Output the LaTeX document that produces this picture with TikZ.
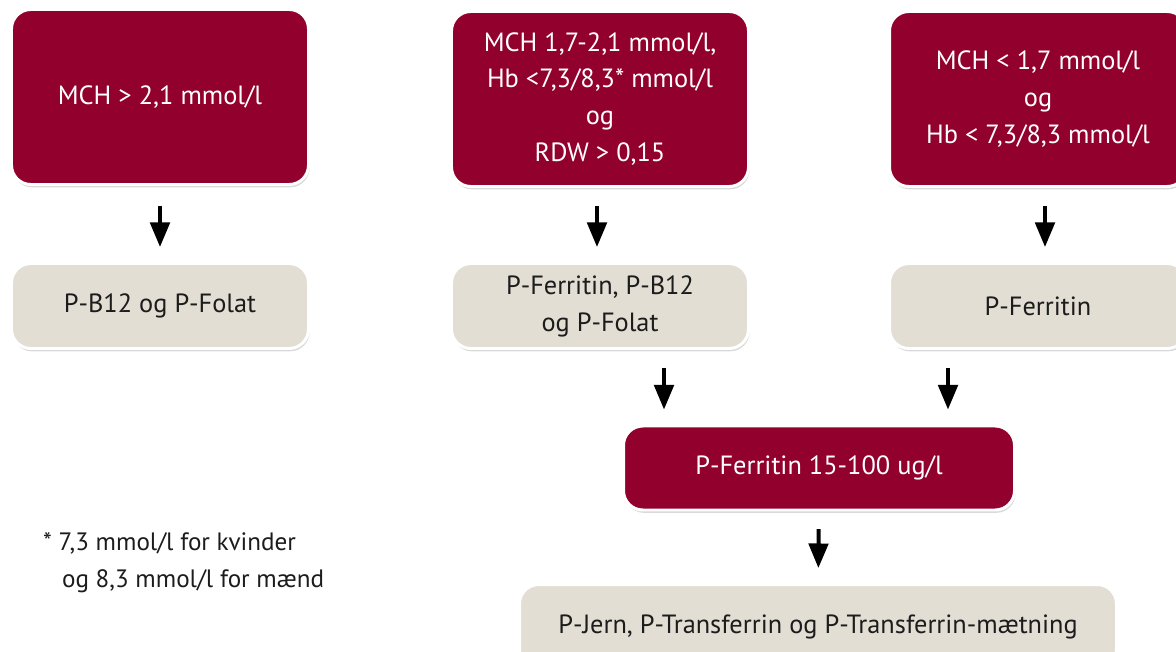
\documentclass[tikz,border=0pt]{standalone}
\usepackage{fontspec}
\setmainfont{PT Sans}
\usepackage{xcolor}
\definecolor{rodAnaemi}{HTML}{92002D}
\definecolor{graaAnaemi}{HTML}{E2DED3}
\definecolor{tekstAnaemi}{HTML}{1C1C1C}
\usetikzlibrary{arrows.meta,shadows}

\begin{document}
\begin{tikzpicture}[x=0.02cm,y=-0.02cm,
    boks/.style={draw=white,line width=1.7pt,rounded corners=11pt,
      align=center,font=\fontsize{15}{21}\selectfont,
      minimum width=297*0.02cm,inner sep=0pt,
      drop shadow={opacity=0.3,shadow xshift=0.6pt,shadow yshift=-1.6pt}},
    rodboks/.style={boks,fill=rodAnaemi,text=white,minimum height=175*0.02cm},
    graaboks/.style={boks,fill=graaAnaemi,text=tekstAnaemi,minimum height=85*0.02cm},
    pil/.style={-{Triangle[width=11pt,length=14pt]},line width=2.3pt,black,
      shorten <=10pt,shorten >=8.5pt}]
  \useasboundingbox (0,0) rectangle (1176,652);
  \node[rodboks] (mchhoj) at (160,97) {MCH > 2,1 mmol/l};
  \node[rodboks] (mchmid) at (600,99) {MCH 1,7-2,1 mmol/l,\\Hb <7,3/8,3* mmol/l\\og\\RDW > 0,15};
  \node[rodboks] (mchlav) at (1038,99) {MCH < 1,7 mmol/l\\og\\Hb < 7,3/8,3 mmol/l};
  \node[graaboks] (b12) at (160,306) {\raisebox{-2pt}{P-B12 og P-Folat}};
  \node[graaboks] (ferb12) at (600,306) {P-Ferritin, P-B12\\og P-Folat};
  \node[graaboks] (ferritin) at (1038,306) {\raisebox{-2pt}{P-Ferritin}};
  \node[rodboks,minimum width=391*0.02cm,minimum height=84*0.02cm] (fergraense) at (819,468) {P-Ferritin 15-100 ug/l};
  \node[graaboks,minimum width=597*0.02cm] (jern) at (818,627) {P-Jern, P-Transferrin og P-Transferrin-mætning};
  \node[anchor=north west,align=left,text=tekstAnaemi,font=\fontsize{14.3}{21}\selectfont]
    (fodnote) at (37,526) {* 7,3 mmol/l for kvinder\\\hspace{0.75em}og 8,3 mmol/l for mænd};
  \coordinate (venstrepil) at (664,0);
  \coordinate (hoejrepil) at (948,0);
  \draw[pil] (mchhoj.south |- mchmid.south) -- (b12);
  \draw[pil] (mchmid.south -| 597,0) -- (ferb12.north -| 597,0);
  \draw[pil] (mchlav.south -| 1045,0) -- (ferritin.north -| 1045,0);
  \draw[pil] (ferb12.south -| venstrepil) -- (fergraense.north -| venstrepil);
  \draw[pil] (ferritin.south -| hoejrepil) -- (fergraense.north -| hoejrepil);
  \draw[pil] (fergraense) -- (jern);
\end{tikzpicture}
\end{document}
